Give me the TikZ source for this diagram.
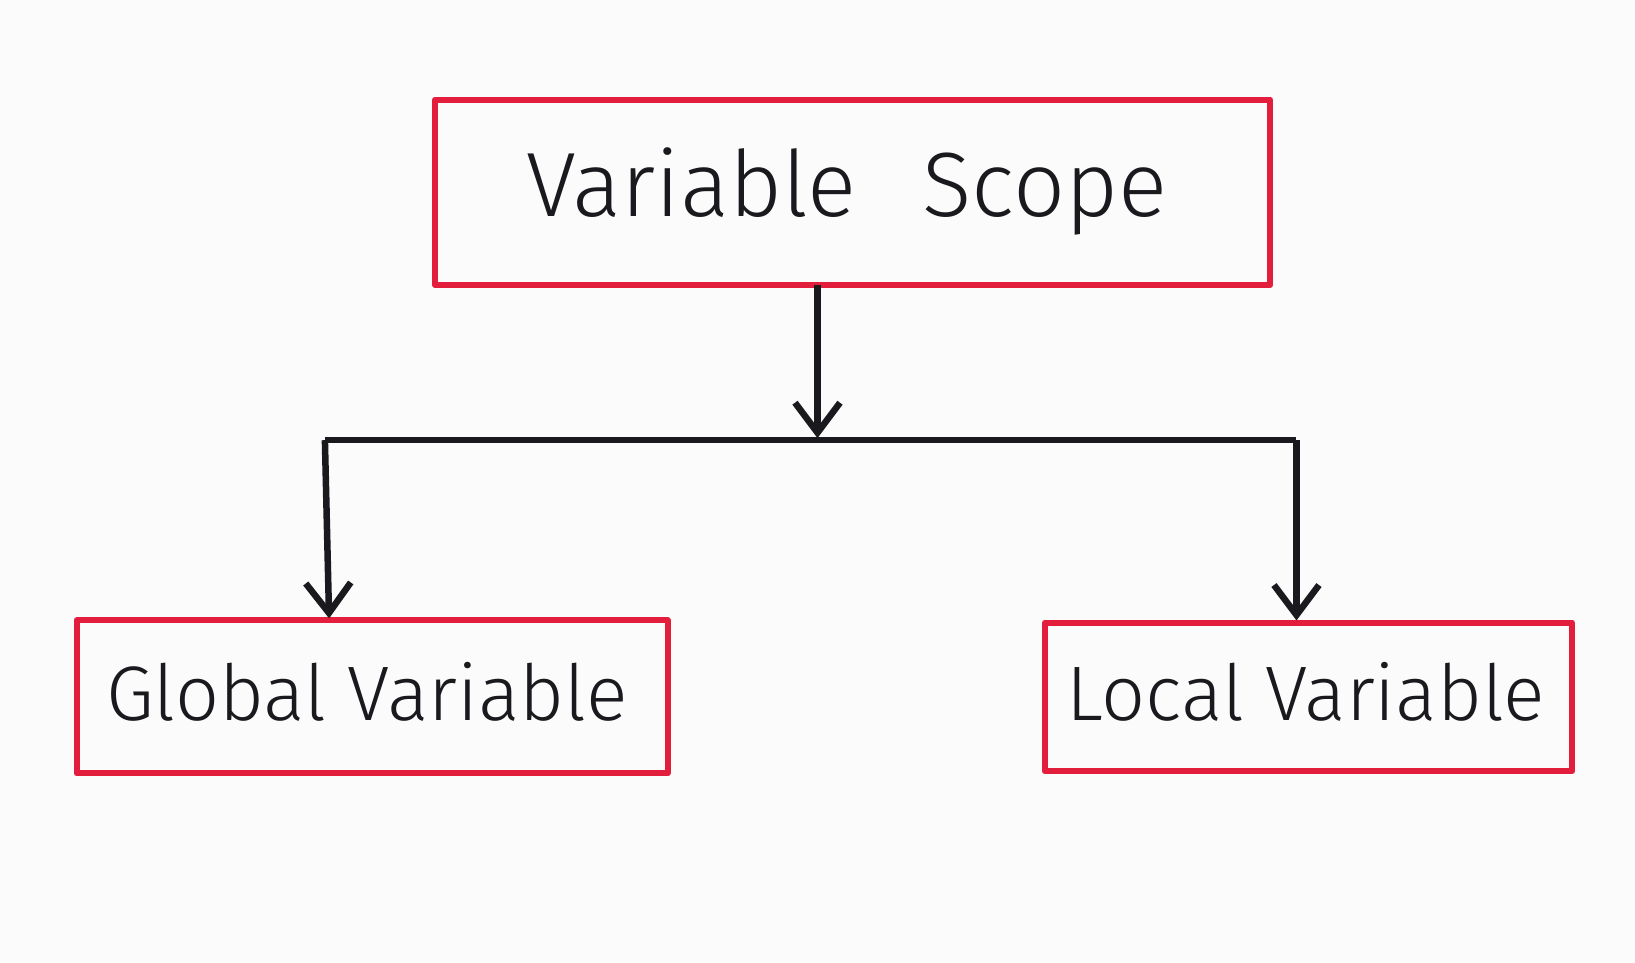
\documentclass[tikz,border=0pt]{standalone}
\usepackage{fontspec}
\setmainfont{Fira Sans Light}[BoldFont=Fira Sans]
\usetikzlibrary{arrows.meta}
\definecolor{boxred}{RGB}{226,30,60}
\definecolor{ink}{RGB}{25,25,30}
\begin{document}
\begin{tikzpicture}[x=0.02096cm,y=-0.02096cm,
  box/.style={draw=boxred,line width=1.2mm,line join=round},
  lbl/.style={text=ink,font=\fontsize{44}{52}\selectfont},
  wire/.style={draw=ink,line width=1.3mm,line join=round},
  arr/.style={wire,-{Straight Barb[length=6mm,width=9mm,line width=1.3mm]}}]
\fill[white!97!gray] (0,0) rectangle (1560,918);
\useasboundingbox (0,0) rectangle (1560,918);
\draw[box] (415,95) rectangle (1212,272);
\node[lbl,font=\fontsize{52}{60}\selectfont] (top) at (808,183) {Variable\;\, Scope};
\draw[box] (73,592) rectangle (637,738);
\node[lbl] (gl) at (350,660) {Global Variable};
\draw[box] (997,594) rectangle (1500,736);
\node[lbl] (lo) at (1246,660) {Local Variable};
\coordinate (t0) at (780,272);
\coordinate (j) at (780,418);
\coordinate (jl) at (310,420);
\coordinate (jr) at (1237,420);
\coordinate (gt) at (314,590);
\coordinate (lt) at (1237,592);
\draw[arr] (t0) -- (j);
\draw[wire] (jl) -- (jr);
\draw[arr] (jl) -- (gt);
\draw[arr] (jr) -- (lt);
\end{tikzpicture}
\end{document}
